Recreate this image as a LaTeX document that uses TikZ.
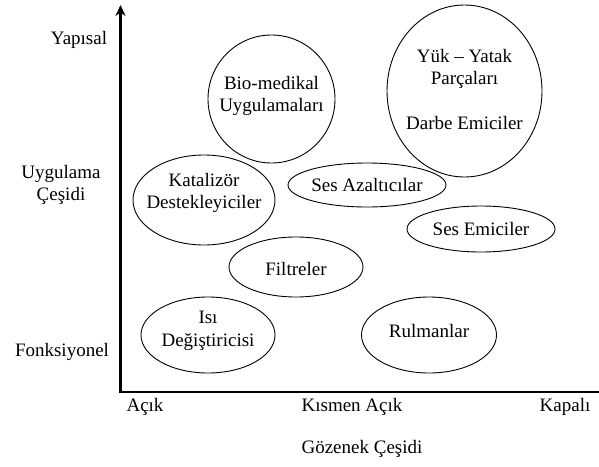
\documentclass[tikz,border=0pt]{standalone}
\usepackage{fontspec}
\setmainfont{Liberation Serif}
\usetikzlibrary{shapes.geometric,arrows.meta}
\begin{document}
\begin{tikzpicture}[x=1pt,y=-1pt,
  lbl/.style={font=\fontsize{19}{22.5}\selectfont, align=center, inner sep=0pt},
  ell/.style={ellipse, draw, line width=0.9pt, inner sep=0pt},
  axis/.style={line width=2.6pt}]
\useasboundingbox (0,0) rectangle (599,466);
% axes
\coordinate (O) at (120.5,392);
\coordinate (Ytop) at (120.5,5);
\coordinate (Xend) at (599,392);
\draw[axis, -{Stealth[length=11pt,width=10pt]}] ([yshift=1.3pt]O) -- (Ytop);
\draw[axis] ([xshift=-1.3pt]O) -- (Xend);
% axis labels
\node[lbl] (yap) at (79,40) {Yapısal};
\node[lbl] (uyg) at (61,185) {Uygulama\\Çeşidi};
\node[lbl] (fon) at (62,352) {Fonksiyonel};
\node[lbl] (acik) at (145,407) {Açık};
\node[lbl] (kis) at (352,407) {Kısmen Açık};
\node[lbl] (kap) at (565,407) {Kapalı};
\node[lbl] (goz) at (362,449) {Gözenek Çeşidi};
% ellipses
\node[ell, minimum width=127, minimum height=128] (bio) at (271.5,99) {};
\node[lbl] (bioT) at (271.5,96) {Bio-medikal\\Uygulamaları};
\node[ell, minimum width=155, minimum height=172] (yuk) at (464.5,91) {};
\node[lbl] (yukT) at (464.5,89) {Yük – Yatak\\Parçaları\\[22pt]Darbe Emiciler};
\node[ell, minimum width=142, minimum height=90] (kat) at (204,200) {};
\node[lbl] (katT) at (204,193) {Katalizör\\Destekleyiciler};
\node[ell, minimum width=158, minimum height=44] (ses) at (367,185) {};
\node[lbl] (sesT) at (367,185) {Ses Azaltıcılar};
\node[ell, minimum width=148, minimum height=46] (emi) at (481,229) {};
\node[lbl] (emiT) at (481,229) {Ses Emiciler};
\node[ell, minimum width=134, minimum height=60] (fil) at (296,267) {};
\node[lbl] (filT) at (296,269) {Filtreler};
\node[ell, minimum width=134, minimum height=76] (isi) at (208,335) {};
\node[lbl] (isiT) at (208,331) {Isı\\Değiştiricisi};
\node[ell, minimum width=135, minimum height=76] (rul) at (429,335) {};
\node[lbl] (rulT) at (429,331) {Rulmanlar};
\end{tikzpicture}
\end{document}
